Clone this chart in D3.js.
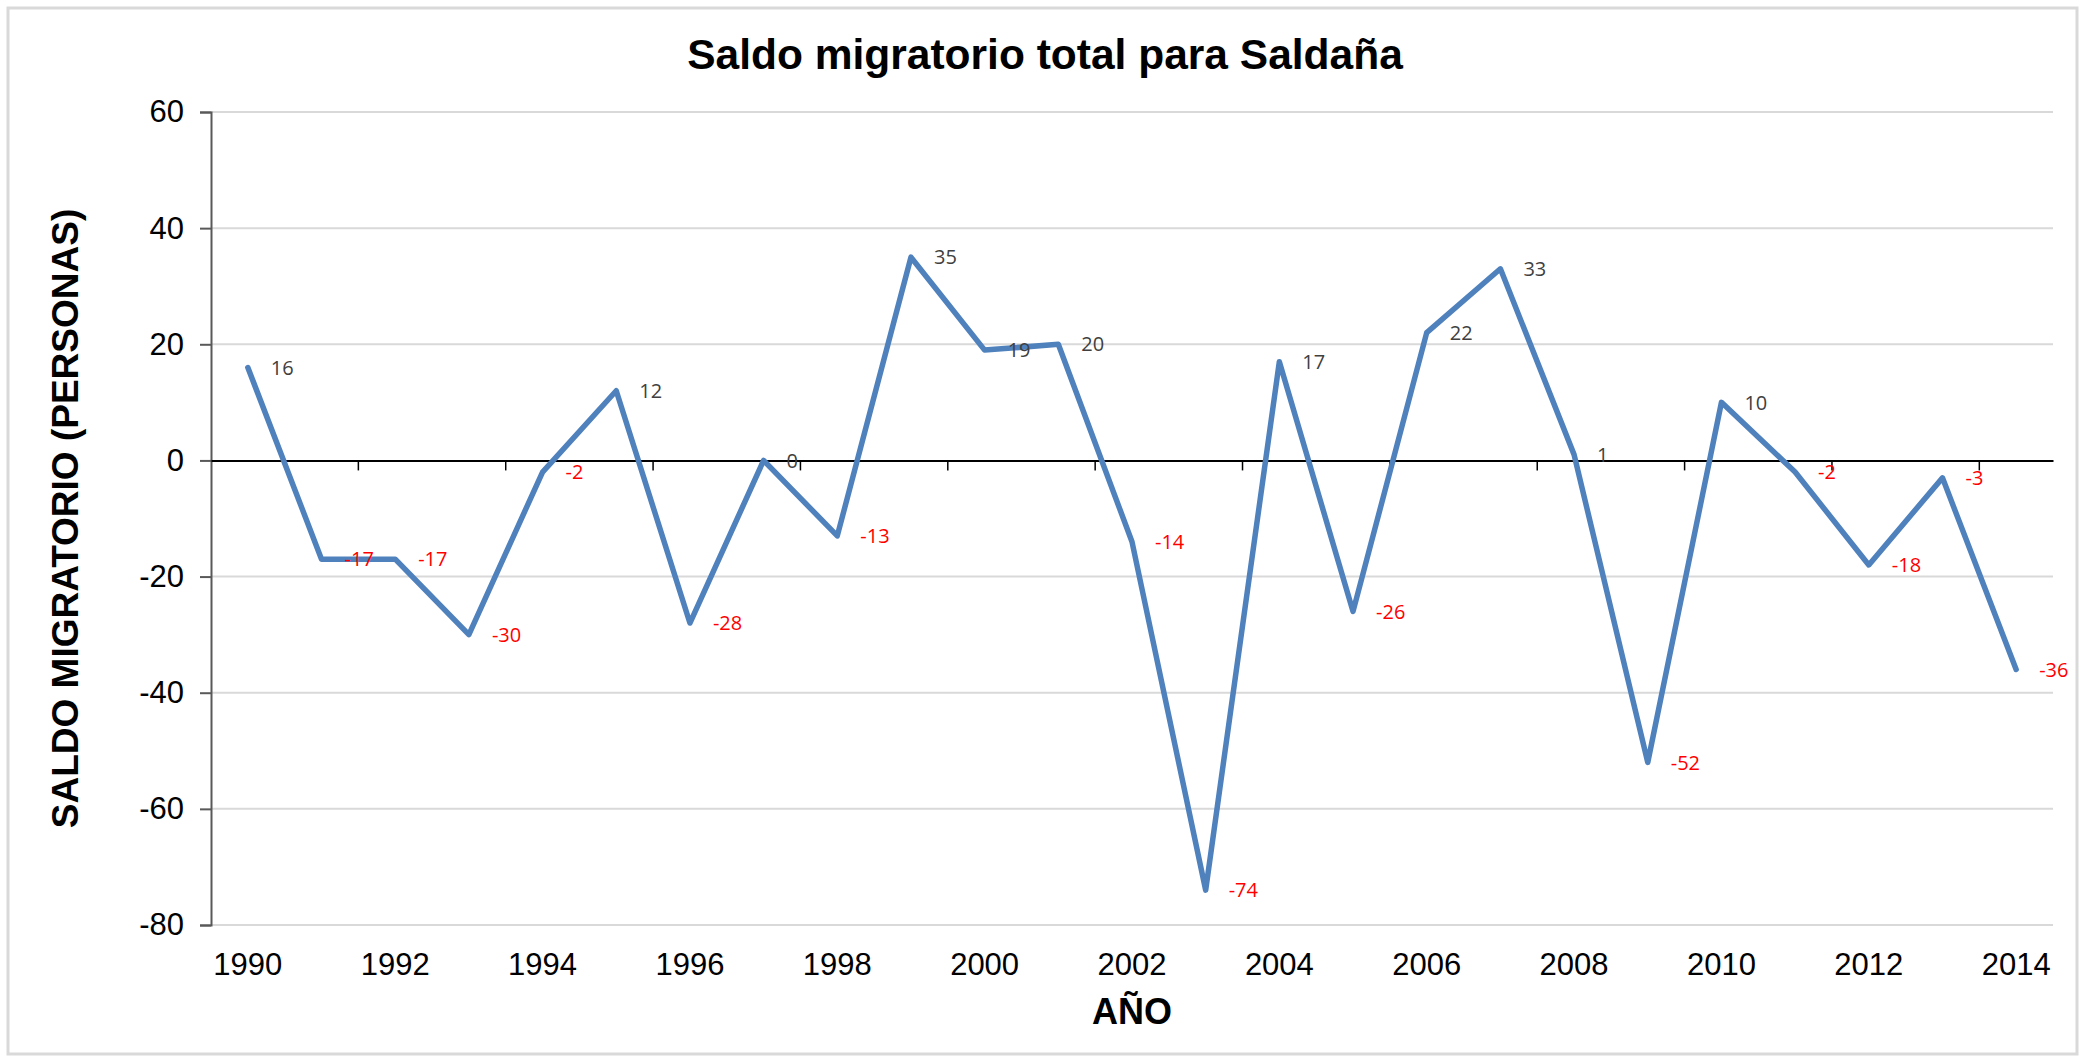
<!DOCTYPE html>
<html>
<head>
<meta charset="utf-8">
<script src="https://cdn.jsdelivr.net/npm/d3@7"></script>
<style>
  body { margin: 0; background: #fff; }
  svg { display: block; }
</style>
</head>
<body>
<div id="chart"></div>
<script>
const years = ['1990','1991','1992','1993','1994','1995','1996','1997','1998','1999','2000','2001','2002',
  '2003','2004','2005','2006','2007','2008','2009','2010','2011','2012','2013','2014'];
const saldo = [16, -17, -17, -30, -2, 12, -28, 0, -13, 35, 19, 20, -14, -74, 17, -26, 22, 33, 1, -52, 10, -2, -18, -3, -36];
const yTicks = [60, 40, 20, 0, -20, -40, -60, -80];

const W = 2085, H = 1058;
const MARGIN = { TOP: 112, BOTTOM: 133, LEFT: 211, RIGHT: 32 };
const WIDTH = W - MARGIN.LEFT - MARGIN.RIGHT;
const HEIGHT = H - MARGIN.TOP - MARGIN.BOTTOM;

const svg = d3.select('#chart')
  .append('svg')
    .attr('width', W)
    .attr('height', H);

// chart border
svg.append('rect')
  .attr('x', 8).attr('y', 8)
  .attr('width', W - 16).attr('height', H - 12)
  .attr('fill', 'none')
  .attr('stroke', '#d9d9d9')
  .attr('stroke-width', 3);

const g = svg.append('g')
  .attr('transform', `translate(${MARGIN.LEFT}, ${MARGIN.TOP})`);

const x = d3.scaleBand()
  .domain(years)
  .range([0, WIDTH])
  .padding(0);

const y = d3.scaleLinear()
  .domain([-80, 60])
  .range([HEIGHT, 0]);

const cx = d => x(d) + x.bandwidth() / 2;

// gridlines
g.append('g')
  .selectAll('line')
  .data(yTicks.filter(t => t !== 0))
  .enter().append('line')
    .attr('x1', 0).attr('x2', WIDTH)
    .attr('y1', d => y(d)).attr('y2', d => y(d))
    .attr('stroke', '#d9d9d9')
    .attr('stroke-width', 2);

// y axis
const yAxis = g.append('g')
  .call(d3.axisLeft(y).tickValues(yTicks).tickSize(11).tickPadding(16).tickFormat(d3.format('d')));
yAxis.select('.domain').attr('stroke', '#595959').attr('stroke-width', 2);
yAxis.selectAll('.tick line').attr('stroke', '#595959').attr('stroke-width', 2);
yAxis.selectAll('text')
  .attr('font-family', '"Liberation Sans", Arial, sans-serif')
  .attr('font-size', 31)
  .attr('fill', '#000')
  .text(d => d < 0 ? '-' + Math.abs(d) : d);

// zero line with ticks between category pairs
const zeroAxis = g.append('g')
  .attr('transform', `translate(0, ${y(0)})`)
  .call(d3.axisBottom(x).tickValues([]).tickSizeOuter(0));
zeroAxis.select('.domain').attr('stroke', '#000').attr('stroke-width', 2);
zeroAxis.selectAll('line.sep')
  .data(years.filter((d, i) => i > 0 && i % 2 === 0))
  .enter().append('line')
    .attr('class', 'sep')
    .attr('x1', d => x(d)).attr('x2', d => x(d))
    .attr('y1', 0).attr('y2', 10)
    .attr('stroke', '#000')
    .attr('stroke-width', 1.5);

// year labels under the plot
g.append('g')
  .selectAll('text')
  .data(years.filter((d, i) => i % 2 === 0))
  .enter().append('text')
    .attr('x', d => cx(d))
    .attr('y', HEIGHT + 50)
    .attr('text-anchor', 'middle')
    .attr('font-family', '"Liberation Sans", Arial, sans-serif')
    .attr('font-size', 31)
    .text(d => d);

// line
const line = d3.line()
  .x((d, i) => cx(years[i]))
  .y(d => y(d));

g.append('path')
  .datum(saldo)
  .attr('d', line)
  .attr('fill', 'none')
  .attr('stroke', '#4f81bd')
  .attr('stroke-width', 5.5)
  .attr('stroke-linejoin', 'round')
  .attr('stroke-linecap', 'round');

// data labels
g.append('g')
  .selectAll('text')
  .data(saldo)
  .enter().append('text')
    .attr('x', (d, i) => cx(years[i]) + 23)
    .attr('y', d => y(d))
    .attr('dy', '0.36em')
    .attr('font-family', '"Open Sans", "Noto Sans", sans-serif')
    .attr('font-size', 20)
    .attr('fill', d => d < 0 ? '#ff0000' : '#404040')
    .text(d => d);

// title
svg.append('text')
  .attr('x', MARGIN.LEFT + WIDTH / 2 - 87)
  .attr('y', 69)
  .attr('text-anchor', 'middle')
  .attr('font-family', '"Liberation Sans", Arial, sans-serif')
  .attr('font-weight', 'bold')
  .attr('font-size', 42.5)
  .text('Saldo migratorio total para Saldaña');

// x axis label
svg.append('text')
  .attr('x', MARGIN.LEFT + WIDTH / 2)
  .attr('y', 1024)
  .attr('text-anchor', 'middle')
  .attr('font-family', '"Liberation Sans", Arial, sans-serif')
  .attr('font-weight', 'bold')
  .attr('font-size', 36)
  .text('AÑO');

// y axis label
svg.append('text')
  .attr('transform', `translate(78, ${MARGIN.TOP + HEIGHT / 2}) rotate(-90)`)
  .attr('text-anchor', 'middle')
  .attr('font-family', '"Liberation Sans", Arial, sans-serif')
  .attr('font-weight', 'bold')
  .attr('font-size', 37)
  .text('SALDO MIGRATORIO (PERSONAS)');
</script>
</body>
</html>
